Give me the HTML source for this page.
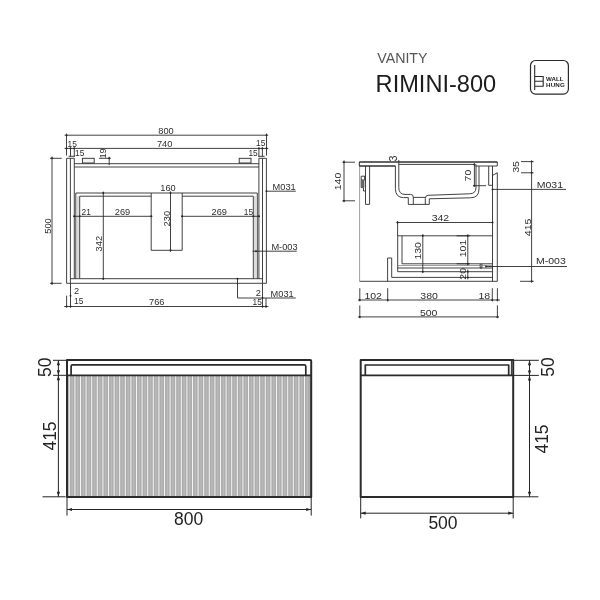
<!DOCTYPE html>
<html><head><meta charset="utf-8">
<style>
html,body{margin:0;padding:0;background:#fff;}
body{width:600px;height:600px;overflow:hidden;font-family:"Liberation Sans",sans-serif;}
svg{display:block;filter:grayscale(1) blur(.35px);}
svg text{font-family:"Liberation Sans",sans-serif;fill:#2e2e2e;}
.t{stroke:#2c2c2c;stroke-width:.9;fill:none;}
.g{stroke:#777;stroke-width:.7;fill:none;}
.k{stroke:#2b2b2b;stroke-width:2;fill:none;stroke-linejoin:round;}
.s{font-size:9px;}
.s2{font-size:9.75px;}
.b{font-size:17.5px;fill:#222!important;}
.u{stroke:#242424;stroke-width:1;fill:none;}
.d{fill:#262626;stroke:none;}
</style></head><body>
<svg width="600" height="600" viewBox="0 0 600 600">
<!-- TITLE -->
<g id="title">
<text x="377.3" y="63" style="font-size:14.2px;fill:#555">VANITY</text>
<text x="375.6" y="92.3" style="font-size:23.6px;fill:#1c1c1c">RIMINI-800</text>
<rect x="530.5" y="60.5" width="37.9" height="33.6" rx="5" ry="5" style="fill:none;stroke:#2a2a2a;stroke-width:1.2"/>
<path d="M534.7 65V90M534.7 76.5H543.2V86.2H534.7M534.7 81.3H543.2" style="fill:none;stroke:#2a2a2a;stroke-width:1.1"/>
<text x="546" y="80.6" style="font-size:6.2px;font-weight:bold;fill:#222">WALL</text>
<text x="546" y="86.8" style="font-size:6.2px;font-weight:bold;fill:#222;letter-spacing:.2px">HUNG</text>
</g>

<!-- FRONT SECTION (top-left) -->
<g id="front">
<!-- dims top -->
<path class="t" d="M64.6 135.2H268.2M64.6 148.4H268.2M66.5 133.6V155.6M266.5 133.6V155.6M70.5 147.4V156.4M74.3 147.4V156.4M262.4 147.4V156.4M258.9 147.4V156.4M68.6 156.3H75M258 156.3H264.6"/>
<text class="s" transform="translate(166 133.8) scale(1.03 1)" text-anchor="middle">800</text>
<text class="s" transform="translate(164.6 147.4) scale(1.03 1)" text-anchor="middle">740</text>
<text class="s" transform="translate(67.6 146.6) scale(.93 1)">15</text>
<text class="s" transform="translate(75 156) scale(.93 1)">15</text>
<text class="s" transform="translate(256 145.9) scale(.93 1)">15</text>
<text class="s" transform="translate(248.4 155.9) scale(.93 1)">15</text>
<!-- 19 -->
<path class="t" d="M99 158.3H110.8M109.2 156.8V165.2"/>
<text class="s" transform="translate(106.3 153.4) rotate(-90) scale(1.03 1)" text-anchor="middle">19</text>
<!-- 500 -->
<path class="t" d="M52 156.6V285M50 158.3H61.7M50 283.3H61.7"/>
<text class="s" transform="translate(50.8 226) rotate(-90) scale(1.03 1)" text-anchor="middle">500</text>
<!-- cabinet -->
<path class="t" d="M66.6 158.3V283.3H266.4V158.3H258.9V278.7H74.3V158.3ZM70.4 158.3V283.3M262.5 158.3V283.3M70.4 278.7H74.3M258.9 278.7H262.5"/>
<path class="t" d="M74.3 163.7H258.9M74.3 167H258.9"/>
<rect x="82.4" y="158.3" width="11.8" height="4.7" style="fill:#f4f4f4;stroke:#2c2c2c;stroke-width:.9"/>
<rect x="239.2" y="158.3" width="11.8" height="4.7" style="fill:#f4f4f4;stroke:#2c2c2c;stroke-width:.9"/>
<!-- drawer -->
<path class="t" d="M75.8 278.7V193H257.3V278.7M79.7 278.7V196.2H151.2M182.2 196.2H253.3V278.7M151.2 193V250.3H182.2V193"/>
<path class="g" d="M78 196.2V278.7M255 196.2V278.7" style="stroke:#999"/>
<!-- inner dims -->
<path class="t" d="M73 216.3H152.4M181 216.3H260M103.3 191.6V279.6M170.5 191.4V251.8"/>
<text class="s" transform="translate(81.6 215) scale(.93 1)">21</text>
<text class="s" transform="translate(122.5 215) scale(1.03 1)" text-anchor="middle">269</text>
<text class="s" transform="translate(219.2 215) scale(1.03 1)" text-anchor="middle">269</text>
<text class="s" transform="translate(243.8 215) scale(.93 1)">15</text>
<text class="s" transform="translate(168 191.3) scale(1.03 1)" text-anchor="middle">160</text>
<text class="s" transform="translate(102.2 243.7) rotate(-90) scale(1.03 1)" text-anchor="middle">342</text>
<text class="s" transform="translate(169.6 218.7) rotate(-90) scale(1.03 1)" text-anchor="middle">230</text>
<!-- leaders -->
<path class="t" d="M266.4 191.2H295.8M252.5 251.2H296.7M237.5 278.7V298H295.8"/>
<text class="s" transform="translate(272.6 189.7) scale(1.03 1)">M031</text>
<text class="s" transform="translate(271.4 249.7) scale(1.03 1)">M-003</text>
<text class="s" transform="translate(270.6 296.7) scale(1.03 1)">M031</text>
<!-- bottom dims -->
<path class="t" d="M64.2 306.5H268.4M70.5 283.3V307.6M66.6 295.6V307.6M262.5 283.3V307.6M266 298V307.6"/>
<text class="s" transform="translate(74 294.2) scale(1.03 1)">2</text>
<text class="s" transform="translate(74 304.3) scale(.93 1)">15</text>
<text class="s" transform="translate(156.7 305) scale(1.03 1)" text-anchor="middle">766</text>
<text class="s" transform="translate(255.8 295.8) scale(1.03 1)">2</text>
<text class="s" transform="translate(252.6 305) scale(.93 1)">15</text>
<g class="d"><circle cx="66.5" cy="135.2" r=".95"/><circle cx="266.5" cy="135.2" r=".95"/><circle cx="66.5" cy="148.4" r=".95"/><circle cx="70.5" cy="148.4" r=".95"/><circle cx="74.3" cy="148.4" r=".95"/><circle cx="258.9" cy="148.4" r=".95"/><circle cx="262.4" cy="148.4" r=".95"/><circle cx="266.5" cy="148.4" r=".95"/><circle cx="109.2" cy="158.3" r=".95"/><circle cx="52" cy="158.3" r=".95"/><circle cx="52" cy="283.3" r=".95"/><circle cx="74.3" cy="216.3" r=".95"/><circle cx="79.7" cy="216.3" r=".95"/><circle cx="151.2" cy="216.3" r=".95"/><circle cx="182.2" cy="216.3" r=".95"/><circle cx="253.3" cy="216.3" r=".95"/><circle cx="258.9" cy="216.3" r=".95"/><circle cx="103.3" cy="193" r=".95"/><circle cx="103.3" cy="278.7" r=".95"/><circle cx="170.5" cy="193" r=".95"/><circle cx="170.5" cy="250.3" r=".95"/><circle cx="266.4" cy="191.2" r=".95"/><circle cx="256" cy="251.2" r=".95"/><circle cx="237.5" cy="278.7" r=".95"/><circle cx="66.6" cy="306.5" r=".95"/><circle cx="70.5" cy="306.5" r=".95"/><circle cx="70.5" cy="295.8" r=".95"/><circle cx="262.5" cy="306.5" r=".95"/><circle cx="266" cy="306.5" r=".95"/><circle cx="262.5" cy="298" r=".95"/></g>
</g>

<!-- SIDE SECTION (top-right) -->
<g id="side">
<!-- 140 -->
<path class="t" d="M344 160.4V202.2M342.4 162.2H355M342.4 200.8H355"/>
<text class="s2" transform="translate(341.4 181.5) rotate(-90) scale(1.08 1)" text-anchor="middle">140</text>
<!-- wall + floor line -->
<path class="g" d="M359.6 162V281.3"/>
<path class="t" d="M359.6 281.3H497.4"/>
<!-- countertop -->
<path class="t" d="M359.3 162H497.3V166H475.4M395.4 166H359.3V162M398.8 164.4H475.4" />
<path d="M359.3 162H497.3M359.3 166H395.4" style="stroke:#2a2a2a;stroke-width:1.15;fill:none"/>
<!-- back rail -->
<path class="t" d="M365.5 166V204.4H369.6V166"/>
<!-- hanger -->
<path class="t" d="M361.2 176.2H365.5M361.2 176.2V187.6H363.5V191H365.5M361.2 180H364.6V176.2"/>
<rect x="361.2" y="180" width="3.2" height="7.6" fill="#666"/>
<!-- basin -->
<path class="t" d="M395.4 166V188.5Q395.4 197.6 403.5 197.6H408.3V204.4H429.3V198.8L470.5 197.8Q479 197.8 479 189V166"/>
<path class="t" d="M398.8 160V187.5Q398.8 194.4 405 194.4H410.5Q413.3 194.4 413.3 197V204.4M425.3 204.4V198.5Q425.3 195.6 428 195.3L469.5 193.8Q476 193.7 476 187.5V164.4M413.3 197.4H425.3"/>
<!-- 3 -->
<text class="s2" transform="translate(397.3 158.4) rotate(-90) scale(1.08 1)" text-anchor="middle" style="font-size:10px">3</text>
<!-- 70 -->
<path class="t" d="M474.4 163.4V186.4M473 185.7H486"/>
<text class="s2" transform="translate(471.4 175.6) rotate(-90) scale(1.08 1)" text-anchor="middle">70</text>
<!-- front top piece + door -->
<path class="t" d="M488.7 166V185.3H492.5V166M492.5 175.4L497.3 172.8V281.3M492.5 175.4V281.3"/>
<!-- 35 / 415 -->
<path class="t" d="M531.6 160.4V282.6M521 161.6H533.6M521 172.8H533.6M520 281.3H533.8"/>
<text class="s2" transform="translate(519 166.9) rotate(-90) scale(1.08 1)" text-anchor="middle">35</text>
<text class="s2" transform="translate(530.9 227.4) rotate(-90) scale(1.08 1)" text-anchor="middle">415</text>
<!-- leaders -->
<path class="t" d="M492.5 189.4H566M485.8 266.5H567"/>
<text class="s2" transform="translate(536.7 188) scale(1.08 1)">M031</text>
<text class="s2" transform="translate(536 264.4) scale(1.08 1)">M-003</text>
<!-- 342 -->
<path class="t" d="M396.4 222.5H493.2M397.6 221V236"/>
<text class="s2" transform="translate(440.4 220.9) scale(1.08 1)" text-anchor="middle">342</text>
<!-- drawer -->
<path class="t" d="M397.8 235.8H492.5M397.7 235.8V271.7H492.5M402 235.8V263.8H492.5M397.7 268H492.5M480.2 263.8V268H481.9V263.8"/>
<path class="g" d="M397.7 265.5H492.5"/>
<!-- bottom panel -->
<path class="t" d="M387.6 281.3V258H391.7V277.4H492.5"/>
<!-- 130 / 101 / 20 -->
<path class="t" d="M422.8 234.2V272.8M467.8 234.4V265.4M456.6 235.8H470M456.6 263.8H470M467.8 269.6V279.4"/>
<text class="s2" transform="translate(420.6 250.8) rotate(-90) scale(1.08 1)" text-anchor="middle">130</text>
<text class="s2" transform="translate(465.6 248.5) rotate(-90) scale(1.08 1)" text-anchor="middle">101</text>
<text class="s2" transform="translate(465.6 273.8) rotate(-90) scale(1.08 1)" text-anchor="middle">20</text>
<!-- bottom dims -->
<path class="t" d="M358 300H500M359.8 288.2V301.4M387.7 288.2V301.6M492.3 288.2V301.4M497.4 288.2V301.4M358 316.9H499M359.8 305.4V318.2M497.4 305.4V318.2"/>
<text class="s2" transform="translate(373.2 298.7) scale(1.08 1)" text-anchor="middle">102</text>
<text class="s2" transform="translate(429.1 298.7) scale(1.08 1)" text-anchor="middle">380</text>
<text class="s2" transform="translate(484.3 298.7) scale(1.08 1)" text-anchor="middle">18</text>
<text class="s2" transform="translate(428.7 315.6) scale(1.08 1)" text-anchor="middle">500</text>
<g class="d"><circle cx="344" cy="162.2" r=".95"/><circle cx="344" cy="200.8" r=".95"/><circle cx="474.4" cy="164.4" r=".95"/><circle cx="474.4" cy="185.7" r=".95"/><circle cx="531.6" cy="161.6" r=".95"/><circle cx="531.6" cy="172.8" r=".95"/><circle cx="531.6" cy="281.3" r=".95"/><circle cx="397.6" cy="222.5" r=".95"/><circle cx="492.5" cy="222.5" r=".95"/><circle cx="422.8" cy="235.8" r=".95"/><circle cx="422.8" cy="271.7" r=".95"/><circle cx="467.8" cy="235.8" r=".95"/><circle cx="467.8" cy="263.8" r=".95"/><circle cx="467.8" cy="271.7" r=".95"/><circle cx="467.8" cy="277.4" r=".95"/><circle cx="359.8" cy="300" r=".95"/><circle cx="387.7" cy="300" r=".95"/><circle cx="492.3" cy="300" r=".95"/><circle cx="497.4" cy="300" r=".95"/><circle cx="359.8" cy="316.9" r=".95"/><circle cx="497.4" cy="316.9" r=".95"/><circle cx="492.5" cy="189.4" r=".95"/><circle cx="486" cy="266.5" r=".95"/></g>
</g>

<!-- FRONT ELEVATION (bottom-left) -->
<g id="elevF">
<rect x="67" y="375.4" width="244.2" height="121.6" fill="#adadad"/>
<path d="M72.10 376V496.4M77.70 376V496.4M83.30 376V496.4M88.90 376V496.4M94.50 376V496.4M100.10 376V496.4M105.70 376V496.4M111.30 376V496.4M116.90 376V496.4M122.50 376V496.4M128.10 376V496.4M133.70 376V496.4M139.30 376V496.4M144.90 376V496.4M150.50 376V496.4M156.10 376V496.4M161.70 376V496.4M167.30 376V496.4M172.90 376V496.4M178.50 376V496.4M184.10 376V496.4M189.70 376V496.4M195.30 376V496.4M200.90 376V496.4M206.50 376V496.4M212.10 376V496.4M217.70 376V496.4M223.30 376V496.4M228.90 376V496.4M234.50 376V496.4M240.10 376V496.4M245.70 376V496.4M251.30 376V496.4M256.90 376V496.4M262.50 376V496.4M268.10 376V496.4M273.70 376V496.4M279.30 376V496.4M284.90 376V496.4M290.50 376V496.4M296.10 376V496.4M301.70 376V496.4M307.30 376V496.4" style="stroke:#b9b9b9;stroke-width:1.6;fill:none"/>
<path d="M69.30 376V496.4M74.90 376V496.4M80.50 376V496.4M86.10 376V496.4M91.70 376V496.4M97.30 376V496.4M102.90 376V496.4M108.50 376V496.4M114.10 376V496.4M119.70 376V496.4M125.30 376V496.4M130.90 376V496.4M136.50 376V496.4M142.10 376V496.4M147.70 376V496.4M153.30 376V496.4M158.90 376V496.4M164.50 376V496.4M170.10 376V496.4M175.70 376V496.4M181.30 376V496.4M186.90 376V496.4M192.50 376V496.4M198.10 376V496.4M203.70 376V496.4M209.30 376V496.4M214.90 376V496.4M220.50 376V496.4M226.10 376V496.4M231.70 376V496.4M237.30 376V496.4M242.90 376V496.4M248.50 376V496.4M254.10 376V496.4M259.70 376V496.4M265.30 376V496.4M270.90 376V496.4M276.50 376V496.4M282.10 376V496.4M287.70 376V496.4M293.30 376V496.4M298.90 376V496.4M304.50 376V496.4" style="stroke:#f4f4f4;stroke-width:1;fill:none"/>
<path class="k" d="M67 497.1V360H310.2Q311.2 360 311.2 361V497.1Z"/>
<path class="k" d="M67 375.4H311.2" style="stroke-width:1.9"/>
<path class="k" d="M71.1 375.4V366.4Q71.1 364.9 72.6 364.9H304.3Q305.8 364.9 305.8 366.4V375.4" style="stroke-width:1.7"/>
<path class="k" d="M67 497.1H311.2" style="stroke-width:2"/>
<!-- dims -->
<path class="u" d="M53 360.3H67M53 375.3H67M58.4 360.3V496.8M42.5 496.8H65.6M67 497V515.6M311.2 497V515.6M67 509.5H311.2"/>
<path class="d" d="M58.4 360.3l-1.6 5h3.2zM58.4 375.3l-1.6 -5h3.2zM58.4 375.3l-1.6 5h3.2zM58.4 496.8l-1.6 -5h3.2zM67 509.5l5 -1.6v3.2zM311.2 509.5l-5 -1.6v3.2z"/>
<text class="b" transform="translate(51.3 367.2) rotate(-90)" text-anchor="middle">50</text>
<text class="b" transform="translate(56.3 436) rotate(-90)" text-anchor="middle">415</text>
<text class="b" x="188.7" y="524.8" text-anchor="middle">800</text>
</g>
<!-- SIDE ELEVATION (bottom-right) -->
<g id="elevS">
<path class="k" d="M360.7 497.1V360H513.2V497.1Z"/>
<path class="k" d="M360.7 375.4H513.2" style="stroke-width:1.8"/>
<path class="k" d="M365.3 375.4V365H508.7V375.4" style="stroke-width:1.7"/>
<path class="k" d="M511.4 360V375.4" style="stroke-width:1"/>
<path class="k" d="M360.7 497H513.2" style="stroke-width:2"/>
<path class="u" d="M513.2 360.3H538.8M513.2 375.4H538.8M529.5 360.3V496.8M513.2 496.8H538.4M360.7 497V518.4M513.2 497V518.4M360.7 513.2H513.2"/>
<path class="d" d="M529.5 360.3l-1.6 5h3.2zM529.5 375.4l-1.6 -5h3.2zM529.5 375.4l-1.6 5h3.2zM529.5 496.8l-1.6 -5h3.2zM360.7 513.2l5 -1.6v3.2zM513.2 513.2l-5 -1.6v3.2z"/>
<text class="b" transform="translate(554 367) rotate(-90)" text-anchor="middle">50</text>
<text class="b" transform="translate(548 439) rotate(-90)" text-anchor="middle">415</text>
<text class="b" x="443" y="529.3" text-anchor="middle">500</text>
</g>
</svg>
</body></html>
